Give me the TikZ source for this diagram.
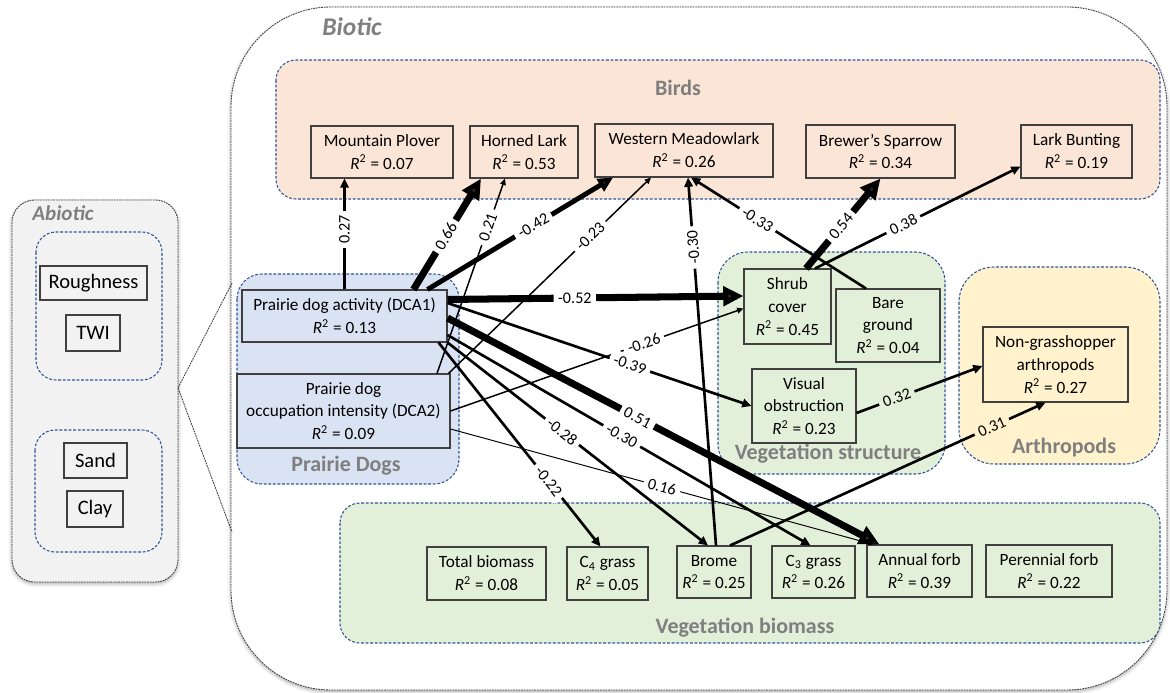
\documentclass[tikz,border=0pt]{standalone}
\usepackage{fontspec}
\setmainfont{Carlito}
\usetikzlibrary{arrows.meta,calc,shadows.blur}

\definecolor{birdfill}{HTML}{FBE5D6}
\definecolor{dogfill}{HTML}{DAE3F3}
\definecolor{vegfill}{HTML}{E2F0D9}
\definecolor{arthfill}{HTML}{FFF2CC}
\definecolor{abiofill}{HTML}{F2F2F2}
\definecolor{grpline}{HTML}{2F5597}
\definecolor{grptext}{HTML}{7F7F7F}
\definecolor{boxline}{HTML}{404040}

\newcommand{\rsq}[1]{\textit{R}\textsuperscript{2} = #1}

\begin{document}
\begin{tikzpicture}[x=0.02cm, y=-0.02cm,
    var/.style = {draw=boxline, line width=0.6pt, align=center, inner sep=0pt,
      minimum height=1.04cm, font=\fontsize{9.8}{13}\selectfont},
    abio/.style = {draw=boxline, line width=0.6pt, inner sep=0pt,
      minimum height=0.7cm, font=\fontsize{11.7}{13}\selectfont},
    grp/.style = {draw=grpline, line width=0.6pt, dash pattern=on 1.6pt off 1pt, rounded corners=0.4cm},
    outerbox/.style = {draw=black!75, line width=0.5pt, dash pattern=on 1pt off 0.5pt},
    boxshadow/.style = {blur shadow={shadow xshift=0pt, shadow yshift=-1pt, shadow blur radius=2pt, shadow opacity=35}},
    grplabel/.style = {text=grptext, font=\bfseries\fontsize{12.5}{14}\selectfont},
    coef/.style = {-{Triangle[length=1.5pt 2.5, width=1.2pt 2.4]}},
    lbl/.style = {fill=white, inner sep=2.5pt, sloped, font=\fontsize{9.2}{10}\selectfont},
    w1/.style = {line width=0.55pt},
    w2/.style = {line width=0.85pt},
    w3/.style = {line width=1.5pt},
    w4/.style = {line width=2.8pt},
    w5/.style = {line width=4pt}]
  \useasboundingbox (0,0) rectangle (1170,693);

  % outer frames
  \draw[outerbox, boxshadow, fill=abiofill, rounded corners=0.45cm] (12,200) rectangle (178,582);
  \draw[outerbox, boxshadow, fill=white, rounded corners=2cm] (231,7) rectangle (1167,690);
  \node[text=grptext, font=\bfseries\itshape\fontsize{12}{14}\selectfont] (abiotic) at (63,213) {Abiotic};
  \node[text=grptext, font=\bfseries\itshape\fontsize{14.5}{16}\selectfont] (biotic) at (352,27) {Biotic};
  \coordinate (abioside) at (178,388);
  \coordinate (biotop) at (232,283);
  \coordinate (biobot) at (232,532);
  \draw[outerbox] (biotop) -- (abioside) -- (biobot);

  % groups
  \draw[grp] (36,232) rectangle (162,380);
  \draw[grp] (35,430) rectangle (162,552);
  \draw[grp, fill=birdfill] (276,60) rectangle (1160,199);
  \draw[grp, fill=dogfill, rounded corners=0.5cm] (237,274) rectangle (459,484);
  \draw[grp, fill=vegfill, rounded corners=0.6cm] (718,252) rectangle (945,474);
  \draw[grp, fill=arthfill, rounded corners=0.7cm] (959,267) rectangle (1160,464);
  \draw[grp, fill=vegfill] (340,503) rectangle (1160,643);
  \node[grplabel] (birds) at (678,88) {Birds};
  \node[grplabel] (dogs) at (346,466) {Prairie Dogs};
  \node[grplabel] (vegstr) at (828,454) {Vegetation structure};
  \node[grplabel] (arth) at (1064,448) {Arthropods};
  \node[grplabel] (vegbio) at (745,628) {Vegetation biomass};

  % abiotic
  \node[abio, minimum width=2.14cm, minimum height=0.68cm] (rough) at (93.5,283) {Roughness};
  \node[abio, minimum width=1.08cm, minimum height=0.72cm] (twi) at (93,333) {TWI};
  \node[abio, minimum width=1.26cm] (sand) at (95.5,460.5) {Sand};
  \node[abio, minimum width=1.12cm, minimum height=0.72cm] (clay) at (95,509) {Clay};

  % birds
  \node[var, fill=birdfill, minimum width=2.84cm] (mp) at (382,152) {Mountain Plover\\\rsq{0.07}};
  \node[var, fill=birdfill, minimum width=2.16cm] (hl) at (524,152) {Horned Lark\\\rsq{0.53}};
  \node[var, fill=birdfill, minimum width=3.56cm, minimum height=1.06cm] (wm) at (684,150.5) {Western Meadowlark\\\rsq{0.26}};
  \node[var, fill=birdfill, minimum width=2.98cm, minimum height=1.06cm] (bs) at (880.5,151.5) {Brewer’s Sparrow\\\rsq{0.34}};
  \node[var, fill=birdfill, minimum width=2.22cm, minimum height=1.06cm] (lb) at (1076.5,151.5) {Lark Bunting\\\rsq{0.19}};

  % prairie dogs
  \node[var, fill=dogfill, minimum width=4.1cm] (dca1) at (344.5,316) {Prairie dog activity (DCA1)\\\rsq{0.13}};
  \node[var, fill=dogfill, minimum width=4.26cm, minimum height=1.48cm] (dca2) at (343.5,411) {Prairie dog\\occupation intensity (DCA2)\\\rsq{0.09}};

  % vegetation structure, arthropods
  \node[var, fill=vegfill, minimum width=1.74cm, minimum height=1.5cm] (sc) at (787.5,306.5) {Shrub\\cover\\\rsq{0.45}};
  \node[var, fill=vegfill, minimum width=2.08cm, minimum height=1.46cm] (bg) at (888,325.5) {Bare\\ground\\\rsq{0.04}};
  \node[var, fill=vegfill, minimum width=2.08cm, minimum height=1.48cm] (vo) at (804,406) {Visual\\obstruction\\\rsq{0.23}};
  \node[var, fill=arthfill, minimum width=2.9cm, minimum height=1.5cm] (nga) at (1055.5,364.5) {Non-grasshopper\\arthropods\\\rsq{0.27}};

  % vegetation biomass
  \node[var, fill=vegfill, minimum width=2.38cm, minimum height=1.06cm] (tb) at (486.5,573.5) {Total biomass\\\rsq{0.08}};
  \node[var, fill=vegfill, minimum width=1.62cm, minimum height=1.06cm] (c4) at (607.5,573.5) {C\textsubscript{4} grass\\\rsq{0.05}};
  \node[var, fill=vegfill, minimum width=1.48cm] (br) at (714,572) {Brome\\\rsq{0.25}};
  \node[var, fill=vegfill, minimum width=1.66cm] (c3) at (813.5,572) {C\textsubscript{3} grass\\\rsq{0.26}};
  \node[var, fill=vegfill, minimum width=2.1cm] (af) at (919.5,571) {Annual forb\\\rsq{0.39}};
  \node[var, fill=vegfill, minimum width=2.52cm] (pf) at (1049,571) {Perennial forb\\\rsq{0.22}};

  % paths
  \draw[coef, w1] ($(dca2.east)+(0,18)$) -- node[lbl, pos=0.5] {0.16} ($(af.north)+(-46,0)$);
  \draw[coef, w2] ($(dca2.north)+(93.5,0)$) -- node[lbl, pos=0.75] {0.21} ($(hl.south)+(-19,0)$);
  \draw[coef, w2] ($(dca2.north east)+(-2,0)$) -- node[lbl, pos=0.7] {-0.23} ($(wm.south)+(-33,0)$);
  \draw[coef, w2] (dca2.east) -- node[lbl, pos=0.66] {-0.26} ($(sc.west)+(0,2)$);
  \draw[coef, w3] (dca1.north) -- node[lbl, pos=0.54, allow upside down] {0.27} (dca1.north |- mp.south);
  \draw[coef, w3] ($(br.north)+(2,0)$) -- node[lbl, pos=0.81, allow upside down] {-0.30} ($(wm.south)+(4,0)$);
  \draw[coef, w3] ($(bg.north)+(-22,0)$) -- node[lbl, pos=0.62] {-0.33} ($(wm.south)+(7,0)$);
  \draw[coef, w3] ($(sc.north)+(27.5,0)$) -- node[lbl, pos=0.43] {0.38} ($(lb.south west)+(0,-12)$);
  \draw[coef, w3] ($(dca1.east)+(0,-13)$) -- node[lbl, pos=0.6] {-0.39} (vo.west);
  \draw[coef, w3] ($(dca1.east)+(0,19)$) -- node[lbl, pos=0.48] {-0.30} ($(c3.north)+(-3,0)$);
  \draw[coef, w3] (dca1.south east) -- node[lbl, pos=0.44] {-0.28} ($(br.north)+(-6,0)$);
  \draw[coef, w3] ($(dca1.south east)+(-9,0)$) -- node[lbl, pos=0.68] {-0.22} ($(c4.north)+(-7,0)$);
  \draw[coef, w3] ($(br.north)+(16,0)$) -- node[lbl, pos=0.83, fill=arthfill] {0.31} ($(nga.south)+(-10,0)$);
  \draw[coef, w3] ($(vo.east)+(0,7)$) -- node[lbl, pos=0.32, fill=vegfill] {0.32} ($(nga.west)+(0,1.5)$);
  \draw[coef, w4] ($(dca1.north)+(83,0)$) -- node[lbl, pos=0.57] {-0.42} ($(wm.south)+(-71,0)$);
  \draw[coef, w5] ($(dca1.east)+(0,2)$) -- node[lbl, pos=0.44] {0.51} ($(af.north)+(-40,0)$);
  \draw[coef, w5] ($(dca1.north east)+(0,10)$) -- node[lbl, pos=0.43] {-0.52} ($(sc.west)+(0,-10.5)$);
  \draw[coef, w5] ($(dca1.north)+(69,0)$) -- node[lbl, pos=0.48] {0.66} ($(hl.south)+(-43,0)$);
  \draw[coef, w5] ($(sc.north)+(18.5,0)$) -- node[lbl, pos=0.47] {0.54} (bs.south);
\end{tikzpicture}
\end{document}
